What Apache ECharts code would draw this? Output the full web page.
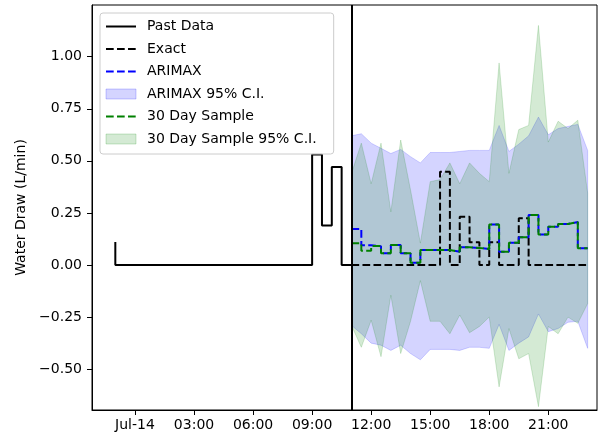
<!DOCTYPE html>
<html><head><meta charset="utf-8">
<script src="https://cdn.jsdelivr.net/npm/echarts@6/dist/echarts.min.js"></script>
<style>html,body{margin:0;padding:0;background:#fff}#c{width:598px;height:439px}</style>
</head><body><div id="c"></div>
<script>
// ---- data (hours relative to Jul-14 00:00) ----
const pastHours = [-1,-0.5,0,0.5,1,1.5,2,2.5,3,3.5,4,4.5,5,5.5,6,6.5,7,7.5,8,8.5,9,9.5,10,10.5,11];
const pastData  = [0.11,0,0,0,0,0,0,0,0,0,0,0,0,0,0,0,0,0,0,0,0,0.53,0.19,0.47,0];

const forecastHours = [11,11.5,12,12.5,13,13.5,14,14.5,15,15.5,16,16.5,17,17.5,18,18.5,19,19.5,20,20.5,21,21.5,22,22.5,23];
const exactData  = [0,0,0,0,0,0,0,0,0,0.448,0,0.232,0.109,0,0.109,0,0,0.224,0,0,0,0,0,0,0];
const arimaxData = [0.173,0.095,0.09,0.056,0.096,0.056,0.011,0.072,0.072,0.072,0.064,0.085,0.082,0.077,0.195,0.064,0.107,0.133,0.24,0.147,0.184,0.197,0.206,0.08,0.08];
const sampleData = [0.104,0.069,0.091,0.056,0.096,0.056,0.011,0.072,0.072,0.072,0.064,0.085,0.082,0.077,0.195,0.064,0.107,0.133,0.24,0.147,0.184,0.197,0.206,0.08,0.08];

const arimaxUpper = [0.62,0.63,0.585,0.56,0.535,0.555,0.52,0.49,0.54,0.54,0.54,0.545,0.55,0.55,0.55,0.67,0.545,0.58,0.62,0.71,0.625,0.655,0.665,0.675,0.55];
const arimaxLower = [-0.29,-0.33,-0.375,-0.385,-0.41,-0.385,-0.425,-0.455,-0.405,-0.405,-0.405,-0.41,-0.395,-0.395,-0.4,-0.285,-0.41,-0.375,-0.345,-0.235,-0.32,-0.305,-0.275,-0.27,-0.40];
const sampleUpper = [0.44,0.585,0.39,0.585,0.255,0.60,0.36,0.105,0.40,0.41,0.49,0.39,0.49,0.44,0.40,0.97,0.44,0.65,0.67,1.15,0.59,0.69,0.655,0.695,0.345];
const sampleLower = [-0.29,-0.395,-0.265,-0.44,-0.145,-0.425,-0.27,-0.075,-0.27,-0.27,-0.33,-0.24,-0.325,-0.295,-0.25,-0.585,-0.305,-0.45,-0.425,-0.68,-0.295,-0.33,-0.25,-0.28,-0.185];

const xTickHours  = [0,3,6,9,12,15,18,21];
const xTickLabels = ['Jul-14','03:00','06:00','09:00','12:00','15:00','18:00','21:00'];
const yTickValues = [-0.5,-0.25,0,0.25,0.5,0.75,1.0];
const yTickLabels = ['\u22120.50','\u22120.25','0.00','0.25','0.50','0.75','1.00'];
const dividerHour = 11;

// ---- build ----
const zip = (xs, ys) => xs.map((x, i) => [x, ys[i]]);
const FONT = 'DejaVu Sans';
const dash = [7.7, 3.3];
const blueFill = 'rgba(0,0,255,0.17)';
const greenFill = 'rgba(0,128,0,0.17)';

function bandSeries(name, upper, lower, fill) {
  return {
    name: name, type: 'custom', clip: true,
    data: forecastHours.map((h, i) => [h, upper[i], lower[i]]),
    encode: {x: 0, y: [1, 2]},
    itemStyle: {color: fill},
    renderItem: function (params, api) {
      if (params.dataIndex !== 0) return null;
      const pts = [];
      for (let i = 0; i < forecastHours.length; i++) pts.push(api.coord([forecastHours[i], upper[i]]));
      for (let i = forecastHours.length - 1; i >= 0; i--) pts.push(api.coord([forecastHours[i], lower[i]]));
      return {type: 'polygon', shape: {points: pts}, style: {fill: fill, stroke: fill, lineWidth: 1}};
    }
  };
}

const hideSym = {opacity: 0};
const chart = echarts.init(document.getElementById('c'), null, {renderer: 'canvas'});
chart.setOption({
  animation: false,
  textStyle: {fontFamily: FONT},
  grid: {left: 92, right: 1, top: 5, bottom: 29, show: true, borderColor: '#000', borderWidth: 1, backgroundColor: 'transparent'},
  xAxis: {
    type: 'value', min: -2.185, max: 23.475,
    axisLine: {onZero: false, lineStyle: {color: '#000', width: 1}},
    axisTick: {show: true, length: 5, lineStyle: {color: '#000'}, customValues: xTickHours},
    axisLabel: {customValues: xTickHours, margin: 8, fontSize: 14, color: '#000', fontFamily: FONT,
      formatter: v => xTickLabels[xTickHours.indexOf(v)]},
    splitLine: {show: false}
  },
  yAxis: {
    type: 'value', min: -0.696, max: 1.248,
    name: 'Water Draw (L/min)', nameLocation: 'middle', nameGap: 56,
    nameTextStyle: {fontSize: 14, color: '#000', fontFamily: FONT},
    axisLine: {show: true, onZero: false, lineStyle: {color: '#000', width: 1}},
    axisTick: {show: true, length: 5, lineStyle: {color: '#000'}, customValues: yTickValues},
    axisLabel: {customValues: yTickValues, margin: 10, fontSize: 14, color: '#000', fontFamily: FONT,
      formatter: v => yTickLabels[yTickValues.findIndex(t => Math.abs(t - v) < 1e-9)]},
    splitLine: {show: false}
  },
  legend: {
    orient: 'vertical', left: 100, top: 13, padding: [6.5, 17, 8, 5],
    itemWidth: 30, itemHeight: 10, itemGap: 8.5,
    backgroundColor: 'rgba(255,255,255,0.8)', borderColor: '#cccccc', borderWidth: 1, borderRadius: 3,
    textStyle: {fontSize: 14, color: '#000', fontFamily: FONT, lineHeight: 14, padding: [0, 0, 0, 6]},
    data: [
      {name: 'Past Data', itemStyle: hideSym},
      {name: 'Exact', itemStyle: hideSym},
      {name: 'ARIMAX', itemStyle: hideSym},
      {name: 'ARIMAX 95% C.I.', icon: 'rect', itemStyle: {color: blueFill, borderColor: 'rgba(0,0,255,0.2)', borderWidth: 1}},
      {name: '30 Day Sample', itemStyle: hideSym},
      {name: '30 Day Sample 95% C.I.', icon: 'rect', itemStyle: {color: greenFill, borderColor: 'rgba(0,128,0,0.2)', borderWidth: 1}}
    ]
  },
  series: [
    {name: 'Past Data', type: 'line', step: 'start', symbol: 'none', data: zip(pastHours, pastData),
     itemStyle: {color: '#000'}, lineStyle: {color: '#000', width: 2},
     markLine: {silent: true, symbol: ['none', 'none'], label: {show: false},
       lineStyle: {color: '#000', width: 2, type: 'solid'}, data: [{xAxis: dividerHour}]}},
    {name: 'Exact', type: 'line', step: 'end', symbol: 'none', data: zip(forecastHours, exactData),
     itemStyle: {color: '#000'}, lineStyle: {color: '#000', width: 2, type: dash}},
    {name: 'ARIMAX', type: 'line', step: 'end', symbol: 'none', data: zip(forecastHours, arimaxData),
     itemStyle: {color: '#0000ff'}, lineStyle: {color: '#0000ff', width: 2, type: dash}},
    bandSeries('ARIMAX 95% C.I.', arimaxUpper, arimaxLower, blueFill),
    {name: '30 Day Sample', type: 'line', step: 'end', symbol: 'none', data: zip(forecastHours, sampleData),
     itemStyle: {color: '#008000'}, lineStyle: {color: '#008000', width: 2, type: dash}},
    bandSeries('30 Day Sample 95% C.I.', sampleUpper, sampleLower, greenFill)
  ]
});
</script>
</body></html>
